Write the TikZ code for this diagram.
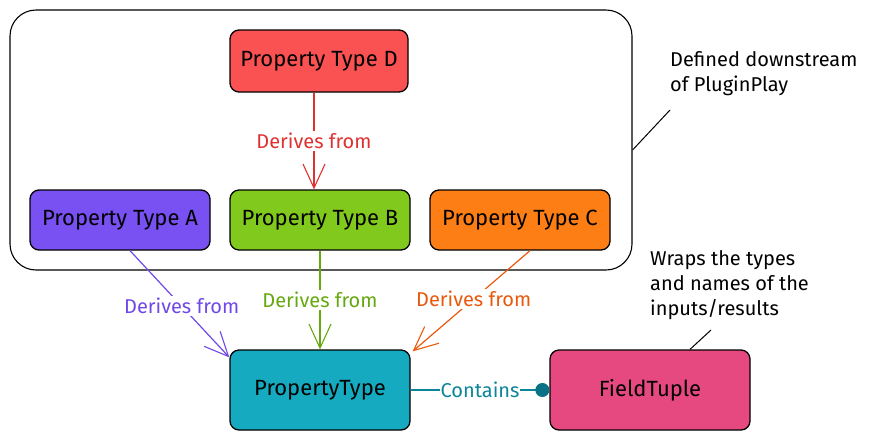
\documentclass[tikz,border=0pt]{standalone}
\usepackage{fontspec}
\setmainfont{Fira Sans}
\usepackage{tikz}
\usetikzlibrary{positioning,arrows.meta,calc}

\definecolor{redfill}{HTML}{FA5252}
\definecolor{redline}{HTML}{E03131}
\definecolor{purplefill}{HTML}{7950F2}
\definecolor{purpleline}{HTML}{7048E8}
\definecolor{greenfill}{HTML}{82C91E}
\definecolor{greenline}{HTML}{66A80F}
\definecolor{orangefill}{HTML}{FD7E14}
\definecolor{orangeline}{HTML}{E8590C}
\definecolor{cyanfill}{HTML}{15AABF}
\definecolor{tealline}{HTML}{0C8599}
\definecolor{tealdot}{HTML}{0B7285}
\definecolor{pinkfill}{HTML}{E64980}

\begin{document}
\begin{tikzpicture}[x=1pt, y=-1pt,
    ptype/.style={draw=black, line width=1.3pt, rounded corners=9pt, minimum width=180pt, minimum height=60pt,
                  font=\fontsize{22}{26}\selectfont, inner sep=2pt},
    derives/.style={line width=1.2pt, -{Straight Barb[length=24pt,width=22pt,line width=1.1pt]}},
    lbl/.style={fill=white, inner sep=2pt, font=\fontsize{20}{24}\selectfont},
    note/.style={anchor=north west, align=left, inner sep=0pt, font=\fontsize{20}{25}\selectfont}]
\useasboundingbox (0,0) rectangle (874,440);

% the group of property types
\node (outer) [draw=black, line width=1.1pt, rounded corners=26pt, minimum width=622pt, minimum height=260pt] at (321,140) {};

\node (ptd) [ptype, fill=redfill, minimum width=178pt, minimum height=62pt] at (319,61) {Property Type D};
\node (pta) [ptype, fill=purplefill] at (120,220) {Property Type A};
\node (ptb) [ptype, fill=greenfill] at (320,220) {Property Type B};
\node (ptc) [ptype, fill=orangefill] at (520,220) {Property Type C};

\node (pt) [ptype, fill=cyanfill, minimum height=80pt] at (320,390) {PropertyType};
\node (ft) [ptype, fill=pinkfill, minimum width=200pt, minimum height=80pt] at (650,390) {FieldTuple};

% inheritance
\draw[derives, redline] (ptd.south -| 314,0) -- node[lbl, text=redline] {Derives from} (ptb.north -| 314,0);
\draw[derives, purpleline] ([xshift=10pt]pta.south) -- node[lbl, text=purpleline, pos=0.52] {Derives from} ([yshift=-8pt]pt.north west);
\draw[derives, greenline] (ptb.south) -- node[lbl, text=greenline] {Derives from} (pt.north);
\draw[derives, orangeline] ([xshift=10pt]ptc.south) -- node[lbl, text=orangeline, pos=0.48] {Derives from} ([xshift=2pt,yshift=-2pt]pt.north east);

% containment
\draw[tealline, line width=1.2pt, -{Circle[length=14pt,fill=tealdot,color=tealdot]}] (pt.east) -- node[lbl, text=tealline, inner sep=1pt] {Contains} (ft.west);

% notes
\node (noteplugin) [note] at (670,51) {Defined downstream\\of PluginPlay};
\coordinate (pluginhook) at (670,110);
\draw[line width=1pt] ([yshift=-10pt]outer.east) -- (pluginhook);

\node (notewraps) [note] at (650,250) {Wraps the types\\and names of the\\inputs/results};
\coordinate (wrapshook) at (711,330);
\draw[line width=1pt] ([xshift=40pt]ft.north) -- (wrapshook);
\end{tikzpicture}
\end{document}
